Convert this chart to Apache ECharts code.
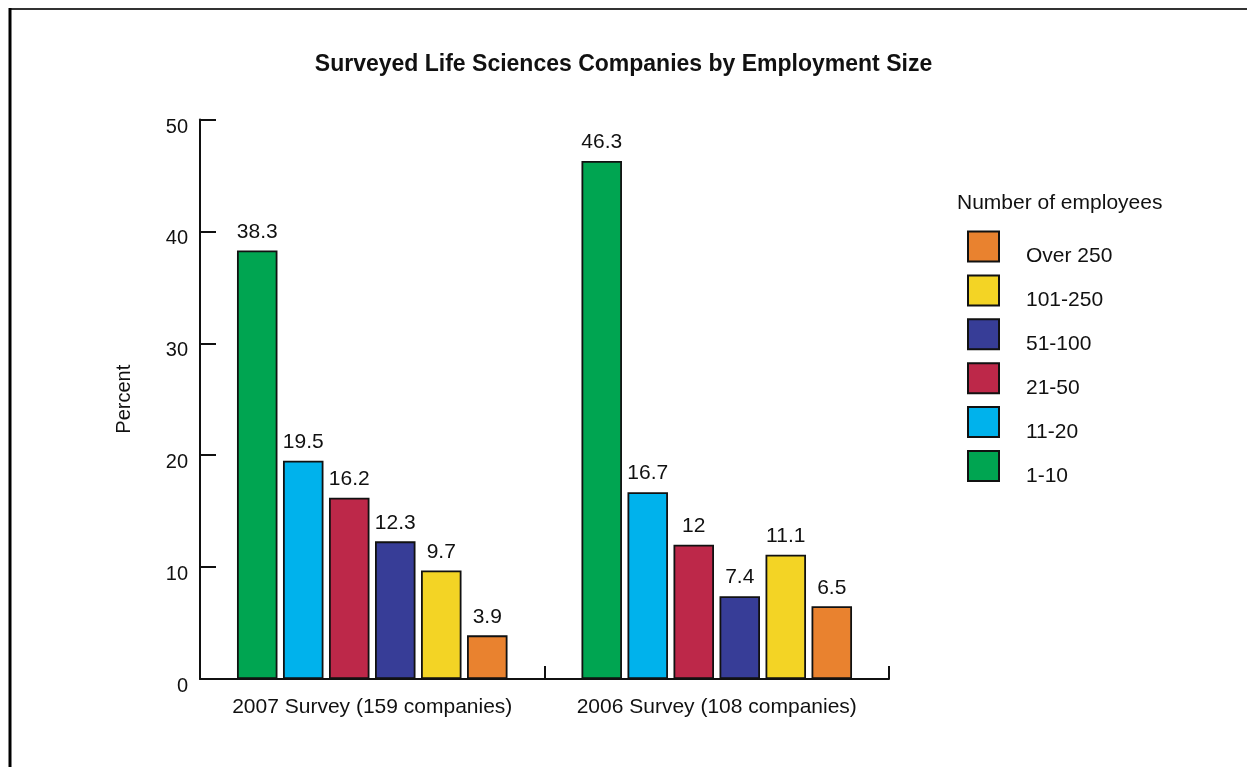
<!DOCTYPE html>
<html>
<head>
<meta charset="utf-8">
<script src="https://cdn.jsdelivr.net/npm/echarts@6/dist/echarts.min.js"></script>
<style>
html,body{margin:0;padding:0;background:#fff;}
#chart{width:1247px;height:767px;}
</style>
</head>
<body>
<div id="chart"></div>
<script>
var categories = ['2007 Survey (159 companies)', '2006 Survey (108 companies)'];
var seriesNames = ['1-10', '11-20', '21-50', '51-100', '101-250', 'Over 250'];
var values_1_10 = [38.3, 46.3];
var values_11_20 = [19.5, 16.7];
var values_21_50 = [16.2, 12];
var values_51_100 = [12.3, 7.4];
var values_101_250 = [9.7, 11.1];
var values_over_250 = [3.9, 6.5];
var yTicks = [0, 10, 20, 30, 40, 50];
var legendOrder = ['Over 250', '101-250', '51-100', '21-50', '11-20', '1-10'];

var seriesValues = [values_1_10, values_11_20, values_21_50, values_51_100, values_101_250, values_over_250];
var colors = ['#00a551', '#00b2ec', '#bd2849', '#373d97', '#f3d425', '#e9822f'];
var FONT = 'Liberation Sans, Arial, Helvetica, sans-serif';

var chart = echarts.init(document.getElementById('chart'), null, {renderer: 'canvas'});

var series = seriesNames.map(function (name, i) {
  return {
    name: name,
    type: 'bar',
    data: seriesValues[i],
    barWidth: 40.5,
    barGap: '13.6%',
    itemStyle: {color: colors[i], borderColor: '#111', borderWidth: 1.8},
    label: {
      show: true, position: 'top', distance: 8,
      color: '#111', fontFamily: FONT, fontSize: 21
    },
    emphasis: {disabled: true},
    animation: false
  };
});

chart.setOption({
  animation: false,
  backgroundColor: '#fff',
  title: [
    {
      text: 'Surveyed Life Sciences Companies by Employment Size',
      left: 'center', top: 53, padding: 0,
      textStyle: {fontFamily: FONT, fontSize: 23, fontWeight: 'bold', color: '#111'}
    },
    {
      text: 'Number of employees',
      left: 957, top: 193, padding: 0,
      textStyle: {fontFamily: FONT, fontSize: 21, fontWeight: 'normal', color: '#111'}
    }
  ],
  legend: {
    data: legendOrder,
    orient: 'vertical',
    left: 967, top: 230.5,
    padding: 0,
    itemWidth: 31, itemHeight: 30, itemGap: 7.4,
    icon: 'rect',
    selectedMode: false,
    formatter: function (name) { return '{p|' + name + '}'; },
    textStyle: {
      fontFamily: FONT, fontSize: 21, color: '#111',
      rich: {p: {fontFamily: FONT, fontSize: 21, color: '#111', padding: [20, 0, 0, 22]}}
    }
  },
  grid: {left: 200, right: 358, top: 119.5, bottom: 88, containLabel: false},
  xAxis: {
    type: 'category',
    data: categories,
    boundaryGap: true,
    axisLine: {lineStyle: {color: '#111', width: 2}},
    axisTick: {show: true, inside: true, length: 13, interval: 0, lineStyle: {color: '#111', width: 2}},
    axisLabel: {fontFamily: FONT, fontSize: 21, color: '#111', margin: 18, interval: 0},
    splitLine: {show: false}
  },
  yAxis: {
    type: 'value',
    min: yTicks[0], max: yTicks[yTicks.length - 1], interval: 10,
    name: 'Percent',
    nameLocation: 'middle',
    nameGap: 66,
    nameTextStyle: {fontFamily: FONT, fontSize: 20, color: '#111'},
    axisLine: {show: true, lineStyle: {color: '#111', width: 2}},
    axisTick: {show: true, inside: true, length: 16, lineStyle: {color: '#111', width: 2}},
    axisLabel: {
      fontFamily: FONT, fontSize: 20, color: '#111', margin: 12,
      formatter: function (v) { return '{t|' + v + '}'; },
      rich: {t: {fontFamily: FONT, fontSize: 20, color: '#111', padding: [15, 0, 0, 0]}}
    },
    splitLine: {show: false}
  },
  graphic: [
    {type: 'line', shape: {x1: 9, y1: 9, x2: 1247, y2: 9}, style: {stroke: '#333', lineWidth: 2}, silent: true},
    {type: 'line', shape: {x1: 10, y1: 8, x2: 10, y2: 767}, style: {stroke: '#000', lineWidth: 3}, silent: true}
  ],
  series: series
});
</script>
</body>
</html>
